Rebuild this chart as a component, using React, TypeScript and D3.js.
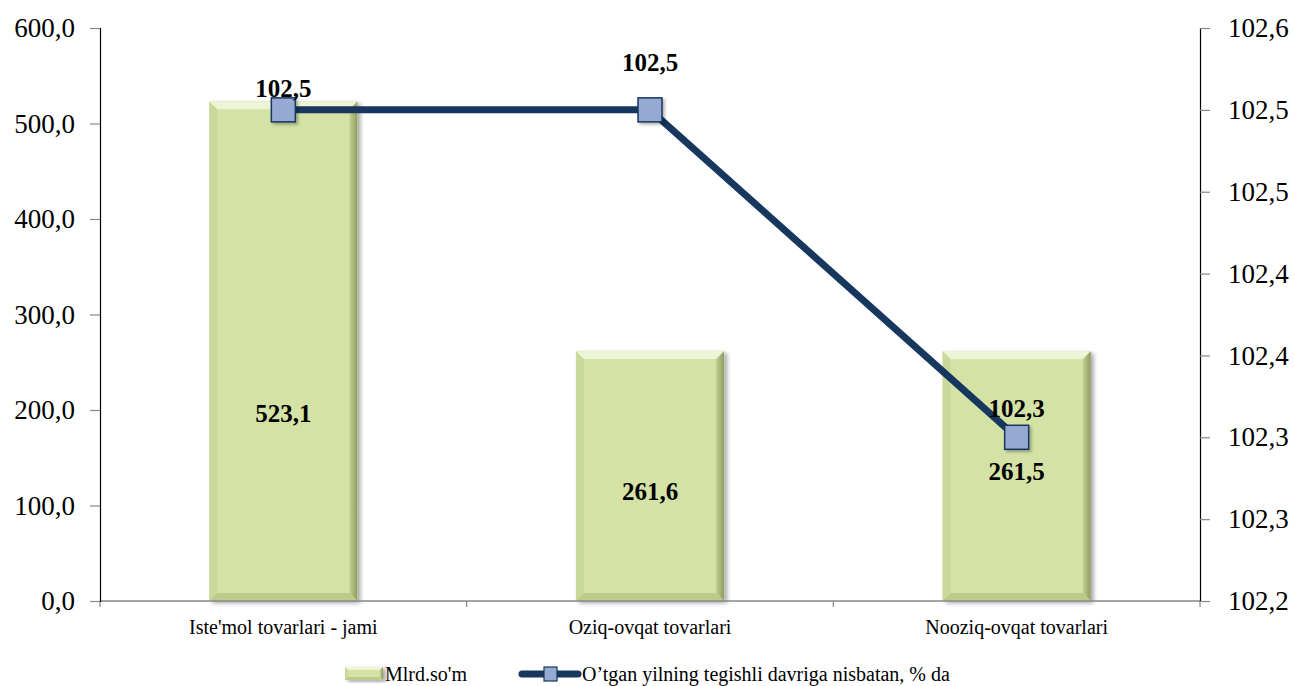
import * as d3 from "d3";
import React, { useEffect, useRef } from "react";

const categories = ["Iste'mol tovarlari - jami", "Oziq-ovqat tovarlari", "Nooziq-ovqat tovarlari"];
const volumes = [523.1, 261.6, 261.5];
const growth = [102.5, 102.5, 102.3];
const leftTicks = [0, 100, 200, 300, 400, 500, 600];
const rightTicks = [102.2, 102.25, 102.3, 102.35, 102.4, 102.45, 102.5, 102.55];
const legendLabels = ["Mlrd.so'm", "O\u2019tgan yilning tegishli davriga nisbatan, % da"];

// one decimal, half up, comma separator
const fmt = (v: number) => (Math.round(v * 10 + 1e-6) / 10).toFixed(1).replace(".", ",");
const FONT = "Times New Roman, Liberation Serif, serif";

const App = () => {
	const ref = useRef<SVGSVGElement>(null);

	useEffect(() => {
		const width = 1295;
		const height = 686;
		const left = 100;
		const right = 1200;
		const top = 28;
		const bottom = 601;

		const svg = d3.select(ref.current);
		svg.selectAll("*").remove();

		const defs = svg.append("defs");
		const shadow = defs.append("filter").attr("id", "shadow").attr("x", "-20%").attr("y", "-20%").attr("width", "140%").attr("height", "140%");
		shadow.append("feDropShadow").attr("dx", 3).attr("dy", 2).attr("stdDeviation", 2).attr("flood-color", "#000").attr("flood-opacity", 0.35);
		const mshadow = defs.append("filter").attr("id", "mshadow").attr("x", "-30%").attr("y", "-30%").attr("width", "160%").attr("height", "160%");
		mshadow.append("feDropShadow").attr("dx", 2).attr("dy", 2).attr("stdDeviation", 1.5).attr("flood-color", "#000").attr("flood-opacity", 0.3);
		const rightGrad = defs.append("linearGradient").attr("id", "rgrad").attr("x1", "0").attr("x2", "1").attr("y1", "0").attr("y2", "0");
		rightGrad.append("stop").attr("offset", "0").attr("stop-color", "#c2d18e");
		rightGrad.append("stop").attr("offset", "1").attr("stop-color", "#8e9b62");

		const x = d3.scaleBand().domain(categories).range([left, right]).paddingInner(0).paddingOuter(0);
		const barW = x.bandwidth() * 0.404;
		const yL = d3.scaleLinear().domain([0, 600]).range([bottom, top]);
		const yR = d3.scaleLinear().domain([102.2, 102.55]).range([bottom, top]);

		// bevelled bar
		const drawBar = (g: any, bx: number, by: number, bw: number, bh: number, bev: number) => {
			g.append("rect").attr("x", bx).attr("y", by).attr("width", bw).attr("height", bh)
				.attr("fill", "#d4e2a6").attr("filter", "url(#shadow)");
			const b = Math.min(bev, bh / 2);
			g.append("polygon").attr("points", `${bx},${by} ${bx + bw},${by} ${bx + bw - b},${by + b} ${bx + b},${by + b}`).attr("fill", "#eef4d6");
			g.append("polygon").attr("points", `${bx},${by} ${bx + b},${by + b} ${bx + b},${by + bh - b} ${bx},${by + bh}`).attr("fill", "#c9d99a");
			g.append("polygon").attr("points", `${bx + bw},${by} ${bx + bw},${by + bh} ${bx + bw - b},${by + bh - b} ${bx + bw - b},${by + b}`).attr("fill", "url(#rgrad)");
			g.append("polygon").attr("points", `${bx},${by + bh} ${bx + bw},${by + bh} ${bx + bw - b},${by + bh - b} ${bx + b},${by + bh - b}`).attr("fill", "#bccb8a");
			g.append("rect").attr("x", bx + b).attr("y", by + b).attr("width", bw - 2 * b).attr("height", bh - 2 * b).attr("fill", "#d4e2a6");
		};

		const bars = svg.append("g");
		volumes.forEach((v, i) => {
			const cx = (x(categories[i]) as number) + x.bandwidth() / 2;
			drawBar(bars, cx - barW / 2, yL(v), barW, yL(0) - yL(v), 8);
		});

		// horizontal axis
		svg.append("line").attr("x1", left).attr("x2", right).attr("y1", bottom).attr("y2", bottom).attr("stroke", "#888").attr("stroke-width", 1.5);
		[left, ...categories.map((c) => (x(c) as number) + x.bandwidth())].forEach((tx) => {
			svg.append("line").attr("x1", tx).attr("x2", tx).attr("y1", bottom).attr("y2", bottom + 6).attr("stroke", "#888").attr("stroke-width", 1.2);
		});

		// left axis
		const gl = svg.append("g").attr("transform", `translate(${left},0)`)
			.call(d3.axisLeft(yL).tickValues(leftTicks).tickSize(10).tickPadding(15).tickFormat((d: any) => fmt(d)));
		gl.attr("font-family", FONT).attr("font-size", 27);
		gl.select(".domain").attr("stroke", "#000").attr("stroke-width", 1.2);
		gl.selectAll(".tick line").attr("stroke", "#888").attr("stroke-width", 1.2);
		gl.selectAll("text").attr("fill", "#000");

		// right axis
		const gr = svg.append("g").attr("transform", `translate(${right},0)`)
			.call(d3.axisRight(yR).tickValues(rightTicks).tickSize(10).tickPadding(18).tickFormat((d: any) => fmt(d)));
		gr.attr("font-family", FONT).attr("font-size", 27);
		gr.select(".domain").attr("stroke", "#000").attr("stroke-width", 1.2);
		gr.selectAll(".tick line").attr("stroke", "#888").attr("stroke-width", 1.2);
		gr.selectAll("text").attr("fill", "#000");

		// category labels
		categories.forEach((c) => {
			svg.append("text").attr("x", (x(c) as number) + x.bandwidth() / 2).attr("y", 634)
				.attr("text-anchor", "middle").attr("font-family", FONT).attr("font-size", 20).text(c);
		});

		// bar labels
		const barLabelFrac = [0.376, 0.44, 0.52];
		volumes.forEach((v, i) => {
			const cx = (x(categories[i]) as number) + x.bandwidth() / 2;
			svg.append("text").attr("x", cx).attr("y", yL(v * barLabelFrac[i]) + 9)
				.attr("text-anchor", "middle").attr("font-family", FONT).attr("font-weight", "bold").attr("font-size", 25).text(fmt(v));
		});

		// line
		const pts = growth.map((g, i) => [(x(categories[i]) as number) + x.bandwidth() / 2, yR(g)] as [number, number]);
		svg.append("path").attr("d", d3.line()(pts)).attr("fill", "none").attr("stroke", "#17375e").attr("stroke-width", 7).attr("stroke-linejoin", "round");
		pts.forEach(([px, py]) => {
			svg.append("rect").attr("x", px - 12).attr("y", py - 12).attr("width", 24).attr("height", 24)
				.attr("fill", "#95a9d3").attr("stroke", "#17375e").attr("stroke-width", 1.5).attr("filter", "url(#mshadow)");
		});
		const lineLabelUp = [22, 48, 29];
		growth.forEach((g, i) => {
			svg.append("text").attr("x", pts[i][0]).attr("y", pts[i][1] - lineLabelUp[i] + 9)
				.attr("text-anchor", "middle").attr("font-family", FONT).attr("font-weight", "bold").attr("font-size", 25).text(fmt(g));
		});

		// legend
		const lg = svg.append("g");
		drawBar(lg, 345, 667, 38, 13, 3);
		lg.append("text").attr("x", 385).attr("y", 681).attr("font-family", FONT).attr("font-size", 20).text(legendLabels[0]);
		lg.append("line").attr("x1", 522).attr("x2", 578).attr("y1", 674).attr("y2", 674).attr("stroke", "#17375e").attr("stroke-width", 7).attr("stroke-linecap", "round");
		lg.append("rect").attr("x", 544).attr("y", 667).attr("width", 13).attr("height", 14).attr("fill", "#95a9d3").attr("stroke", "#17375e").attr("stroke-width", 1.2);
		lg.append("text").attr("x", 582).attr("y", 681).attr("font-family", FONT).attr("font-size", 20).text(legendLabels[1]);

		svg.attr("width", width).attr("height", height);
	}, []);

	return (
		<svg ref={ref} width={1295} height={686} style={{ display: "block", position: "absolute", left: 0, top: 0, background: "#fff" }} />
	);
};

export default App;
